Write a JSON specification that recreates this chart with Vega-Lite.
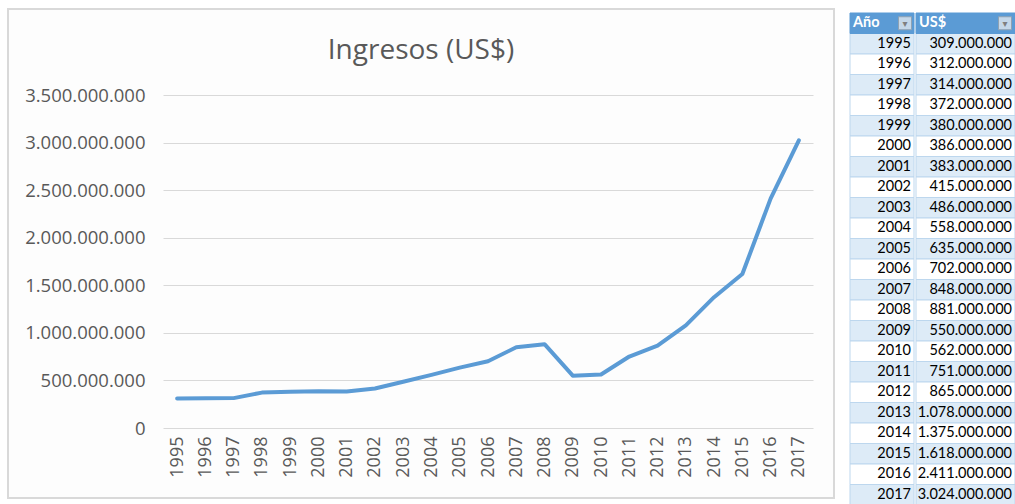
{
  "$schema": "https://vega.github.io/schema/vega-lite/v6.json",
  "padding": {"left": 7, "top": 8, "right": 0, "bottom": 0},
  "background": "white",
  "spacing": 14,
  "config": {
    "locale": {"number": {"decimal": ",", "thousands": ".", "grouping": [3], "currency": ["", " US$"]}},
    "concat": {"spacing": 0}
  },
  "datasets": {
    "ingresos": [
      {"anio": 1995, "usd": 309000000},
      {"anio": 1996, "usd": 312000000},
      {"anio": 1997, "usd": 314000000},
      {"anio": 1998, "usd": 372000000},
      {"anio": 1999, "usd": 380000000},
      {"anio": 2000, "usd": 386000000},
      {"anio": 2001, "usd": 383000000},
      {"anio": 2002, "usd": 415000000},
      {"anio": 2003, "usd": 486000000},
      {"anio": 2004, "usd": 558000000},
      {"anio": 2005, "usd": 635000000},
      {"anio": 2006, "usd": 702000000},
      {"anio": 2007, "usd": 848000000},
      {"anio": 2008, "usd": 881000000},
      {"anio": 2009, "usd": 550000000},
      {"anio": 2010, "usd": 562000000},
      {"anio": 2011, "usd": 751000000},
      {"anio": 2012, "usd": 865000000},
      {"anio": 2013, "usd": 1078000000},
      {"anio": 2014, "usd": 1375000000},
      {"anio": 2015, "usd": 1618000000},
      {"anio": 2016, "usd": 2411000000},
      {"anio": 2017, "usd": 3024000000}
    ],
    "encabezado": [{"anio": "Año"}]
  },
  "hconcat": [
    {
      "width": 826,
      "height": 489,
      "view": {"stroke": "#d9d9d9", "strokeWidth": 2, "fill": "#fdfdfd"},
      "title": {
        "text": "Ingresos (US$)",
        "font": "Open Sans",
        "fontSize": 28,
        "fontWeight": "normal",
        "color": "#595959",
        "anchor": "middle",
        "frame": "group",
        "offset": -56
      },
      "data": {"name": "ingresos"},
      "mark": {"type": "line", "color": "#5B9BD5", "strokeWidth": 4, "strokeCap": "round", "strokeJoin": "round"},
      "encoding": {
        "x": {
          "field": "anio",
          "type": "ordinal",
          "title": null,
          "scale": {"range": [155, 805]},
          "axis": {
            "orient": "bottom",
            "offset": -70,
            "labelAngle": -90,
            "labelPadding": 8,
            "labelFont": "Open Sans",
            "labelFontSize": 18,
            "labelColor": "#595959",
            "ticks": false,
            "tickSize": 0,
            "domain": false,
            "grid": false
          }
        },
        "y": {
          "field": "usd",
          "type": "quantitative",
          "title": null,
          "scale": {"domain": [0, 3500000000], "range": [419, 86], "nice": false, "zero": true},
          "axis": {
            "orient": "left",
            "offset": -155,
            "values": [0, 500000000, 1000000000, 1500000000, 2000000000, 2500000000, 3000000000, 3500000000],
            "format": ",d",
            "labelPadding": 18,
            "labelFont": "Open Sans",
            "labelFontSize": 18.5,
            "labelColor": "#595959",
            "ticks": false,
            "tickSize": 0,
            "domain": false,
            "grid": true,
            "gridColor": "#d9d9d9",
            "gridWidth": 1
          }
        }
      }
    },
    {
      "spacing": 0,
      "hconcat": [
        {
          "width": 64,
          "height": 496,
          "view": {"stroke": null},
          "encoding": {
            "y": {
              "field": "anio",
              "type": "ordinal",
              "axis": null,
              "scale": {
                "domain": ["Año", 1995, 1996, 1997, 1998, 1999, 2000, 2001, 2002, 2003, 2004, 2005, 2006, 2007, 2008, 2009, 2010, 2011, 2012, 2013, 2014, 2015, 2016, 2017],
                "range": [4, 496],
                "paddingInner": 0,
                "paddingOuter": 0
              }
            }
          },
          "layer": [
            {
              "data": {"name": "ingresos"},
              "mark": {"type": "rect", "stroke": "#BDD7EE", "strokeWidth": 1},
              "encoding": {
                "fill": {"condition": {"test": "datum.anio % 2 == 1", "value": "#DDEBF7"}, "value": "#FFFFFF"}
              }
            },
            {
              "data": {"name": "encabezado"},
              "mark": {"type": "rect", "fill": "#5B9BD5", "stroke": "#5B9BD5", "strokeWidth": 1}
            },
            {
              "data": {"name": "ingresos"},
              "mark": {"type": "text", "align": "right", "dx": -3, "font": "Lato", "fontSize": 14.5, "color": "#000000"},
              "encoding": {
                "x": {"datum": "Año", "type": "nominal", "bandPosition": 1, "axis": null, "scale": {"type": "band", "paddingInner": 0, "paddingOuter": 0}},
                "text": {"field": "anio", "type": "nominal"}
              }
            },
            {
              "data": {"name": "encabezado"},
              "mark": {"type": "text", "align": "left", "dx": 3, "font": "Lato", "fontSize": 14.5, "fontWeight": "bold", "color": "#FFFFFF"},
              "encoding": {
                "x": {"datum": "Año", "type": "nominal", "bandPosition": 0, "axis": null, "scale": {"type": "band", "paddingInner": 0, "paddingOuter": 0}},
                "text": {"value": "Año"}
              }
            },
            {
              "data": {"name": "encabezado"},
              "mark": {"type": "square", "size": 169, "filled": true, "color": "#F2F2F2", "stroke": "#A6A6A6", "strokeWidth": 1, "xOffset": -9},
              "encoding": {
                "x": {"datum": "Año", "type": "nominal", "bandPosition": 1, "axis": null, "scale": {"type": "band", "paddingInner": 0, "paddingOuter": 0}}
              }
            },
            {
              "data": {"name": "encabezado"},
              "mark": {"type": "text", "align": "center", "dx": -9, "dy": 1, "font": "DejaVu Sans", "fontSize": 10, "color": "#7F7F7F"},
              "encoding": {
                "x": {"datum": "Año", "type": "nominal", "bandPosition": 1, "axis": null, "scale": {"type": "band", "paddingInner": 0, "paddingOuter": 0}},
                "text": {"value": "▾"}
              }
            }
          ]
        },
        {
          "width": 99,
          "height": 496,
          "view": {"stroke": null},
          "encoding": {
            "y": {
              "field": "anio",
              "type": "ordinal",
              "axis": null,
              "scale": {
                "domain": ["Año", 1995, 1996, 1997, 1998, 1999, 2000, 2001, 2002, 2003, 2004, 2005, 2006, 2007, 2008, 2009, 2010, 2011, 2012, 2013, 2014, 2015, 2016, 2017],
                "range": [4, 496],
                "paddingInner": 0,
                "paddingOuter": 0
              }
            }
          },
          "layer": [
            {
              "data": {"name": "ingresos"},
              "mark": {"type": "rect", "stroke": "#BDD7EE", "strokeWidth": 1},
              "encoding": {
                "fill": {"condition": {"test": "datum.anio % 2 == 1", "value": "#DDEBF7"}, "value": "#FFFFFF"}
              }
            },
            {
              "data": {"name": "encabezado"},
              "mark": {"type": "rect", "fill": "#5B9BD5", "stroke": "#5B9BD5", "strokeWidth": 1}
            },
            {
              "data": {"name": "ingresos"},
              "mark": {"type": "text", "align": "right", "dx": -3, "font": "Lato", "fontSize": 14.5, "color": "#000000"},
              "encoding": {
                "x": {"datum": "US$", "type": "nominal", "bandPosition": 1, "axis": null, "scale": {"type": "band", "paddingInner": 0, "paddingOuter": 0}},
                "text": {"field": "usd", "type": "quantitative", "format": ",d"}
              }
            },
            {
              "data": {"name": "encabezado"},
              "mark": {"type": "text", "align": "left", "dx": 3, "font": "Lato", "fontSize": 14.5, "fontWeight": "bold", "color": "#FFFFFF"},
              "encoding": {
                "x": {"datum": "US$", "type": "nominal", "bandPosition": 0, "axis": null, "scale": {"type": "band", "paddingInner": 0, "paddingOuter": 0}},
                "text": {"value": "US$"}
              }
            },
            {
              "data": {"name": "encabezado"},
              "mark": {"type": "square", "size": 169, "filled": true, "color": "#F2F2F2", "stroke": "#A6A6A6", "strokeWidth": 1, "xOffset": -10},
              "encoding": {
                "x": {"datum": "US$", "type": "nominal", "bandPosition": 1, "axis": null, "scale": {"type": "band", "paddingInner": 0, "paddingOuter": 0}}
              }
            },
            {
              "data": {"name": "encabezado"},
              "mark": {"type": "text", "align": "center", "dx": -10, "dy": 1, "font": "DejaVu Sans", "fontSize": 10, "color": "#7F7F7F"},
              "encoding": {
                "x": {"datum": "US$", "type": "nominal", "bandPosition": 1, "axis": null, "scale": {"type": "band", "paddingInner": 0, "paddingOuter": 0}},
                "text": {"value": "▾"}
              }
            }
          ]
        }
      ]
    }
  ]
}
